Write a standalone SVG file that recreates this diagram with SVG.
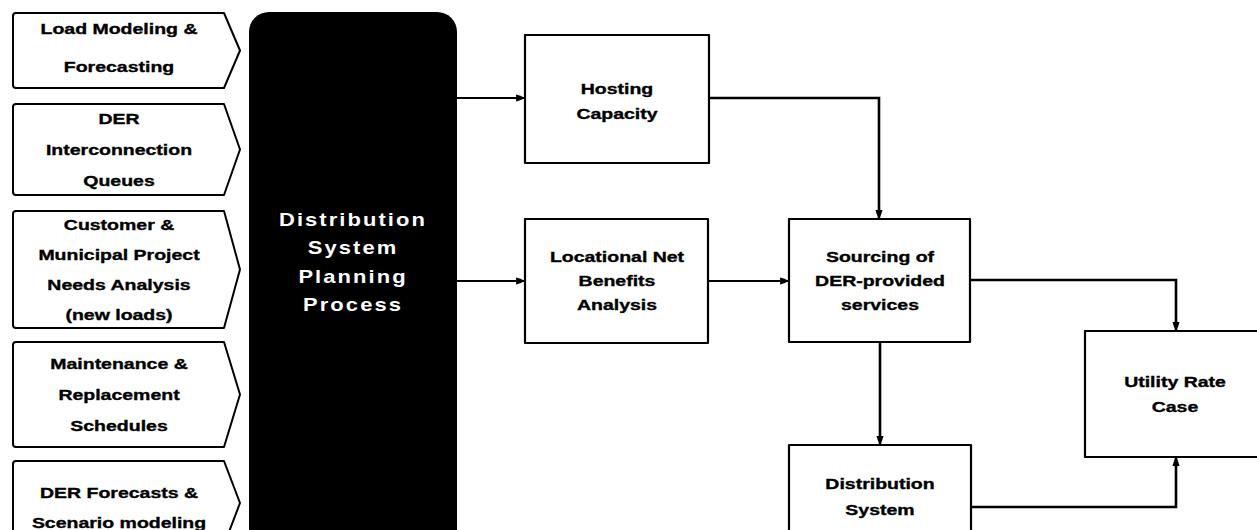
<svg xmlns="http://www.w3.org/2000/svg" width="1257" height="530" viewBox="0 0 1257 530">
  <defs>
    <style>
      .box { fill: #ffffff; stroke: #000000; stroke-width: 2.2; stroke-linejoin: round; }
      .input { fill: #ffffff; stroke: #000000; stroke-width: 2; stroke-linejoin: round; }
      .core { fill: #000000; }
      .lbl { font-family: "Liberation Sans", Arial, sans-serif; font-size: 15px; font-weight: bold; fill: #000000; stroke: #000000; stroke-width: 0.35; text-anchor: middle; }
      .core-lbl { font-family: "Liberation Sans", Arial, sans-serif; font-size: 18px; font-weight: bold; fill: #ffffff; text-anchor: middle; letter-spacing: 1.7px; }
      .wire { fill: none; stroke: #000000; stroke-width: 2.6; stroke-linejoin: miter; }
      .wire-thin { fill: none; stroke: #000000; stroke-width: 2; }
    </style>
    <marker id="head" viewBox="0 0 10 10" refX="9" refY="5" markerWidth="3.4" markerHeight="3.4" orient="auto" markerUnits="strokeWidth">
      <path d="M0,1 Q5,2 10,5 Q5,8 0,9 Z" fill="#000000"/>
    </marker>
    <marker id="head-thin" viewBox="0 0 10 10" refX="9" refY="5" markerWidth="4.4" markerHeight="4.4" orient="auto" markerUnits="strokeWidth">
      <path d="M0,1 Q5,2 10,5 Q5,8 0,9 Z" fill="#000000"/>
    </marker>
  </defs>

  <rect width="1257" height="530" fill="#ffffff"/>

  <!-- Planning inputs (chevrons) -->
  <g id="load-forecasting">
    <path class="input" d="M16,13 H224 L240,50.5 L224,88 H16 Q13,88 13,85 V16 Q13,13 16,13 Z"/>
    <text class="lbl" transform="matrix(1.3 0 0 1 119 0)"><tspan x="0" y="34">Load Modeling &amp;</tspan><tspan x="0" y="72">Forecasting</tspan></text>
  </g>
  <g id="interconnection-queues">
    <path class="input" d="M16,104 H224 L240,149.5 L224,195 H16 Q13,195 13,192 V107 Q13,104 16,104 Z"/>
    <text class="lbl" transform="matrix(1.3 0 0 1 119 0)"><tspan x="0" y="124">DER</tspan><tspan x="0" y="155">Interconnection</tspan><tspan x="0" y="186">Queues</tspan></text>
  </g>
  <g id="needs-analysis">
    <path class="input" d="M16,211 H224 L240,269.5 L224,328 H16 Q13,328 13,325 V214 Q13,211 16,211 Z"/>
    <text class="lbl" transform="matrix(1.3 0 0 1 119 0)"><tspan x="0" y="230">Customer &amp;</tspan><tspan x="0" y="260">Municipal Project</tspan><tspan x="0" y="290">Needs Analysis</tspan><tspan x="0" y="320">(new loads)</tspan></text>
  </g>
  <g id="maintenance">
    <path class="input" d="M16,342 H224 L240,394.5 L224,447 H16 Q13,447 13,444 V345 Q13,342 16,342 Z"/>
    <text class="lbl" transform="matrix(1.3 0 0 1 119 0)"><tspan x="0" y="369">Maintenance &amp;</tspan><tspan x="0" y="400">Replacement</tspan><tspan x="0" y="431">Schedules</tspan></text>
  </g>
  <g id="der-forecasts">
    <path class="input" d="M16,461 H224 L240,503 L224,545 H16 Q13,545 13,542 V464 Q13,461 16,461 Z"/>
    <text class="lbl" transform="matrix(1.3 0 0 1 119 0)"><tspan x="0" y="498">DER Forecasts &amp;</tspan><tspan x="0" y="528">Scenario modeling</tspan></text>
  </g>

  <!-- Central planning process -->
  <g id="planning-process">
    <rect class="core" x="249" y="12" width="208" height="560" rx="20" ry="20"/>
    <text class="core-lbl" transform="matrix(1.22 0 0 1 353 0)"><tspan x="0" y="226">Distribution</tspan><tspan x="0" y="254">System</tspan><tspan x="0" y="283">Planning</tspan><tspan x="0" y="311">Process</tspan></text>
  </g>

  <!-- Analysis and outcome boxes -->
  <g id="hosting-capacity">
    <rect class="box" x="525" y="35" width="184" height="128"/>
    <text class="lbl" transform="matrix(1.3 0 0 1 617 0)"><tspan x="0" y="94">Hosting</tspan><tspan x="0" y="119">Capacity</tspan></text>
  </g>
  <g id="locational-benefits">
    <rect class="box" x="525" y="219" width="183" height="124"/>
    <text class="lbl" transform="matrix(1.3 0 0 1 617 0)"><tspan x="0" y="262">Locational Net</tspan><tspan x="0" y="286">Benefits</tspan><tspan x="0" y="310">Analysis</tspan></text>
  </g>
  <g id="sourcing">
    <rect class="box" x="789" y="219" width="181" height="123"/>
    <text class="lbl" transform="matrix(1.3 0 0 1 880 0)"><tspan x="0" y="262">Sourcing of</tspan><tspan x="0" y="286">DER-provided</tspan><tspan x="0" y="310">services</tspan></text>
  </g>
  <g id="distribution-system">
    <rect class="box" x="789" y="445" width="182" height="120"/>
    <text class="lbl" transform="matrix(1.3 0 0 1 880 0)"><tspan x="0" y="489">Distribution</tspan><tspan x="0" y="515">System</tspan></text>
  </g>
  <g id="rate-case">
    <rect class="box" x="1085" y="331" width="182" height="126"/>
    <text class="lbl" transform="matrix(1.3 0 0 1 1175 0)"><tspan x="0" y="387">Utility Rate</tspan><tspan x="0" y="412">Case</tspan></text>
  </g>

  <!-- Connectors -->
  <g id="connectors">
    <path class="wire-thin" d="M457,98 H524" marker-end="url(#head-thin)"/>
    <path class="wire-thin" d="M457,281 H524" marker-end="url(#head-thin)"/>
    <path class="wire-thin" d="M708,281 H788" marker-end="url(#head-thin)"/>
    <path class="wire" d="M709,98 H879 V218" marker-end="url(#head)"/>
    <path class="wire" d="M880,342 V444" marker-end="url(#head)"/>
    <path class="wire" d="M970,280 H1176 V330" marker-end="url(#head)"/>
    <path class="wire" d="M971,507 H1176 V458" marker-end="url(#head)"/>
  </g>
</svg>
